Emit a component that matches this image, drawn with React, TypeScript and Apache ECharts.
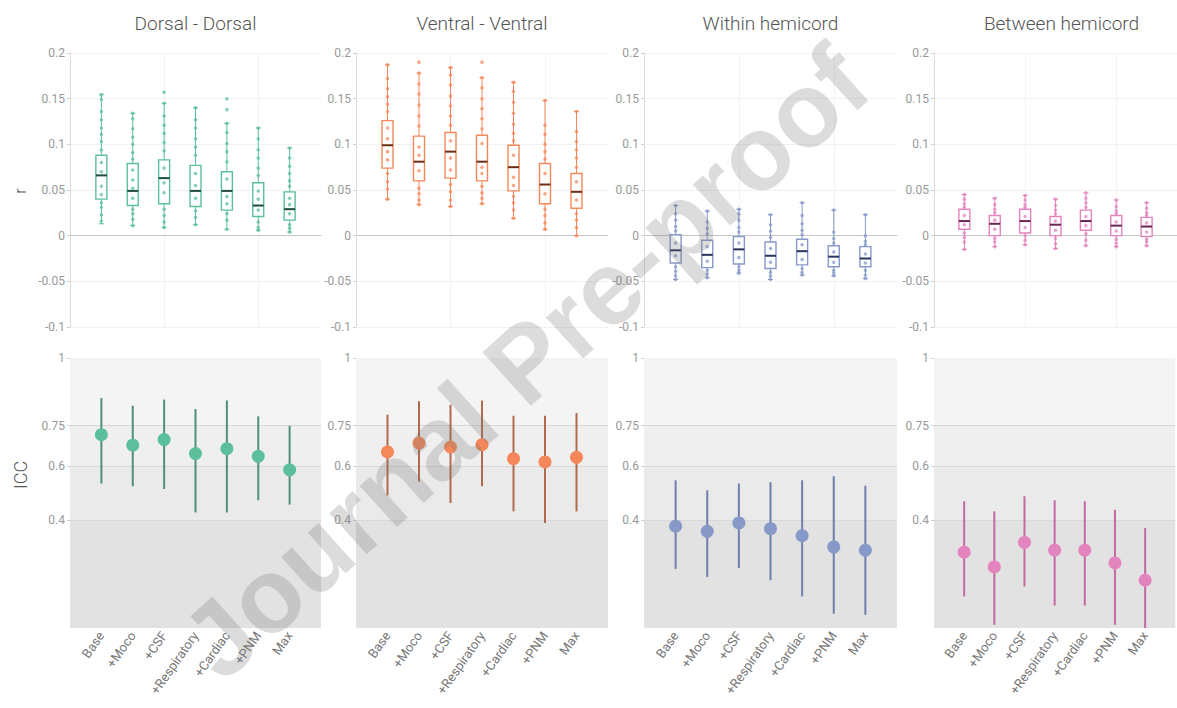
import React, { useEffect, useRef } from 'react';
import * as echarts from 'echarts';

const categories = ['Base', '+Moco', '+CSF', '+Respiratory', '+Cardiac', '+PNM', 'Max'];
const paddedCategories = ['', ...categories, ''];
const panelTitles = ['Dorsal - Dorsal', 'Ventral - Ventral', 'Within hemicord', 'Between hemicord'];
const rTickFormat = (v: number) => String(parseFloat(v.toFixed(2)));
const iccTicks = [0.4, 0.6, 0.75, 1];
const iccBands = [0, 0.4, 0.6, 0.75, 1];

const panelColors = ['#5cbf9c', '#f5885a', '#8699c8', '#e384bf'];
const medianColors = ['#1f4d40', '#6e2e14', '#27345c', '#6a2452'];
const iccLineColors = ['#4f8f7b', '#b06a4c', '#6f7fae', '#c36aa2'];
const bandColors = ['#e2e2e2', '#eaeaea', '#efefef', '#f4f4f4'];

// r boxplots: [min, q1, median, q3, max]
const dorsalBox = [
  [0.013, 0.040, 0.066, 0.088, 0.155],
  [0.011, 0.033, 0.049, 0.079, 0.134],
  [0.009, 0.035, 0.063, 0.083, 0.145],
  [0.012, 0.032, 0.049, 0.077, 0.140],
  [0.007, 0.028, 0.049, 0.070, 0.123],
  [0.006, 0.021, 0.033, 0.058, 0.118],
  [0.004, 0.017, 0.029, 0.048, 0.096],
];
const ventralBox = [
  [0.040, 0.074, 0.099, 0.126, 0.187],
  [0.034, 0.060, 0.081, 0.109, 0.178],
  [0.032, 0.063, 0.092, 0.113, 0.184],
  [0.035, 0.060, 0.081, 0.110, 0.173],
  [0.019, 0.049, 0.075, 0.099, 0.168],
  [0.007, 0.035, 0.056, 0.079, 0.148],
  [0.000, 0.030, 0.048, 0.068, 0.136],
];
const withinBox = [
  [-0.048, -0.030, -0.016, 0.001, 0.033],
  [-0.046, -0.035, -0.021, -0.005, 0.027],
  [-0.041, -0.031, -0.015, -0.001, 0.029],
  [-0.048, -0.036, -0.022, -0.007, 0.023],
  [-0.043, -0.032, -0.017, -0.004, 0.036],
  [-0.044, -0.034, -0.023, -0.011, 0.028],
  [-0.047, -0.034, -0.025, -0.012, 0.023],
];
const betweenBox = [
  [-0.015, 0.007, 0.016, 0.029, 0.045],
  [-0.012, 0.000, 0.013, 0.022, 0.041],
  [-0.010, 0.003, 0.016, 0.029, 0.044],
  [-0.014, 0.000, 0.012, 0.021, 0.040],
  [-0.011, 0.006, 0.016, 0.028, 0.047],
  [-0.012, 0.000, 0.011, 0.022, 0.039],
  [-0.011, -0.001, 0.010, 0.020, 0.036],
];

// individual subject values (visible dots)
const dorsalPoints = [
  [0.154, 0.149, 0.136, 0.127, 0.118, 0.111, 0.103, 0.094, 0.080, 0.070, 0.054, 0.045, 0.036, 0.031, 0.023, 0.016],
  [0.134, 0.128, 0.117, 0.108, 0.100, 0.091, 0.084, 0.072, 0.061, 0.052, 0.041, 0.029, 0.024, 0.018, 0.011],
  [0.157, 0.145, 0.131, 0.121, 0.112, 0.102, 0.093, 0.074, 0.058, 0.047, 0.029, 0.022, 0.015, 0.009],
  [0.140, 0.127, 0.118, 0.106, 0.097, 0.088, 0.068, 0.055, 0.041, 0.027, 0.020, 0.012],
  [0.150, 0.138, 0.123, 0.113, 0.101, 0.092, 0.081, 0.062, 0.043, 0.035, 0.024, 0.017, 0.007],
  [0.118, 0.106, 0.094, 0.085, 0.074, 0.066, 0.049, 0.040, 0.028, 0.015, 0.009, 0.006],
  [0.096, 0.085, 0.076, 0.068, 0.060, 0.054, 0.041, 0.034, 0.024, 0.012, 0.008, 0.004],
];
const ventralPoints = [
  [0.187, 0.172, 0.161, 0.152, 0.144, 0.136, 0.118, 0.106, 0.092, 0.083, 0.068, 0.059, 0.051, 0.040],
  [0.190, 0.178, 0.166, 0.155, 0.143, 0.131, 0.120, 0.097, 0.088, 0.071, 0.052, 0.046, 0.039, 0.034],
  [0.184, 0.176, 0.165, 0.153, 0.142, 0.131, 0.121, 0.104, 0.085, 0.072, 0.056, 0.048, 0.039, 0.032],
  [0.190, 0.173, 0.162, 0.150, 0.139, 0.128, 0.117, 0.101, 0.075, 0.068, 0.054, 0.047, 0.041, 0.035],
  [0.168, 0.158, 0.146, 0.134, 0.122, 0.112, 0.104, 0.088, 0.064, 0.055, 0.043, 0.036, 0.028, 0.019],
  [0.148, 0.121, 0.111, 0.100, 0.092, 0.084, 0.068, 0.046, 0.029, 0.022, 0.014, 0.007],
  [0.136, 0.114, 0.103, 0.094, 0.085, 0.075, 0.059, 0.039, 0.024, 0.017, 0.009, 0.000],
];
const withinPoints = [
  [0.033, 0.024, 0.017, 0.010, 0.005, -0.008, -0.022, -0.034, -0.039, -0.044, -0.048],
  [0.027, 0.015, 0.008, 0.002, -0.012, -0.028, -0.038, -0.042, -0.046],
  [0.029, 0.024, 0.017, 0.009, 0.004, -0.008, -0.024, -0.034, -0.038, -0.041],
  [0.023, 0.012, 0.005, -0.002, -0.014, -0.029, -0.040, -0.044, -0.048],
  [0.036, 0.022, 0.013, 0.006, 0.001, -0.010, -0.026, -0.036, -0.040, -0.043],
  [0.028, 0.004, -0.003, -0.008, -0.018, -0.029, -0.038, -0.041, -0.044],
  [0.023, 0.000, -0.006, -0.010, -0.020, -0.030, -0.038, -0.043, -0.047],
];
const betweenPoints = [
  [0.045, 0.040, 0.035, 0.031, 0.022, 0.012, 0.003, -0.002, -0.007, -0.015],
  [0.041, 0.034, 0.029, 0.025, 0.017, 0.007, -0.003, -0.007, -0.012],
  [0.044, 0.039, 0.034, 0.031, 0.021, 0.009, 0.000, -0.005, -0.010],
  [0.040, 0.033, 0.028, 0.024, 0.016, 0.006, -0.003, -0.009, -0.014],
  [0.047, 0.041, 0.036, 0.031, 0.021, 0.011, 0.002, -0.005, -0.011],
  [0.039, 0.032, 0.027, 0.024, 0.015, 0.005, -0.004, -0.008, -0.012],
  [0.036, 0.030, 0.025, 0.022, 0.014, 0.004, -0.004, -0.007, -0.011],
];

// ICC: [estimate, lower, upper]
const dorsalIcc = [
  [0.716, 0.535, 0.852],
  [0.677, 0.525, 0.823],
  [0.698, 0.515, 0.846],
  [0.646, 0.428, 0.811],
  [0.664, 0.428, 0.843],
  [0.636, 0.473, 0.784],
  [0.586, 0.457, 0.749],
];
const ventralIcc = [
  [0.652, 0.491, 0.790],
  [0.685, 0.543, 0.840],
  [0.670, 0.463, 0.827],
  [0.679, 0.525, 0.843],
  [0.627, 0.432, 0.786],
  [0.615, 0.389, 0.786],
  [0.632, 0.432, 0.796],
];
const withinIcc = [
  [0.377, 0.219, 0.547],
  [0.358, 0.189, 0.510],
  [0.389, 0.222, 0.535],
  [0.368, 0.177, 0.540],
  [0.342, 0.117, 0.547],
  [0.300, 0.053, 0.562],
  [0.288, 0.049, 0.527],
];
const betweenIcc = [
  [0.281, 0.117, 0.469],
  [0.226, 0.012, 0.432],
  [0.317, 0.154, 0.488],
  [0.288, 0.083, 0.473],
  [0.288, 0.083, 0.469],
  [0.241, 0.012, 0.438],
  [0.177, 0.000, 0.370],
];

const boxSets = [dorsalBox, ventralBox, withinBox, betweenBox];
const pointSets = [dorsalPoints, ventralPoints, withinPoints, betweenPoints];
const iccSets = [dorsalIcc, ventralIcc, withinIcc, betweenIcc];

const gridLefts = [70, 356, 644, 934];
const gridWidths = [251, 252, 253, 255];
const FONT = 'Roboto, "Liberation Sans", sans-serif';

function buildOption() {
  const grid: any[] = [];
  const xAxis: any[] = [];
  const yAxis: any[] = [];
  const series: any[] = [];
  const graphic: any[] = [];

  for (let i = 0; i < 4; i++) {
    grid.push({ left: gridLefts[i], width: gridWidths[i], top: 53, height: 274 });
  }
  for (let i = 0; i < 4; i++) {
    grid.push({ left: gridLefts[i], width: gridWidths[i], top: 358, height: 270 });
  }

  for (let i = 0; i < 4; i++) {
    xAxis.push({
      gridIndex: i,
      type: 'category',
      data: paddedCategories,
      boundaryGap: false,
      axisLine: { show: true, onZero: true, lineStyle: { color: '#c6c6c6', width: 1 } },
      axisTick: { show: false },
      axisLabel: { show: false },
      splitLine: { show: true, lineStyle: { color: '#f3f3f3', width: 1 } },
    });
    yAxis.push({
      gridIndex: i,
      type: 'value',
      min: -0.1,
      max: 0.2,
      interval: 0.05,
      axisLine: { show: true, lineStyle: { color: '#dcdcdc' } },
      axisTick: { show: true, length: 3, lineStyle: { color: '#cfcfcf' } },
      axisLabel: { color: '#999999', fontSize: 12, fontFamily: FONT, margin: 5, formatter: rTickFormat },
      splitLine: { show: true, lineStyle: { color: '#f1f1f1' } },
    });
  }
  for (let i = 0; i < 4; i++) {
    xAxis.push({
      gridIndex: 4 + i,
      type: 'category',
      data: paddedCategories,
      boundaryGap: false,
      axisLine: { show: false },
      axisTick: { show: false },
      axisLabel: { interval: 0, rotate: 55, color: '#777777', fontSize: 13, fontFamily: FONT, margin: 5 },
      splitLine: { show: false },
    });
    yAxis.push({
      gridIndex: 4 + i,
      type: 'value',
      min: 0,
      max: 1,
      axisLine: { show: true, lineStyle: { color: '#dcdcdc' } },
      axisTick: { show: true, length: 3, customValues: iccTicks, lineStyle: { color: '#cfcfcf' } },
      axisLabel: {
        customValues: iccTicks,
        color: '#999999',
        fontSize: 12,
        fontFamily: FONT,
        margin: 5,
        formatter: (v: number) => String(v),
      },
      splitLine: { show: false },
    });
  }

  for (let i = 0; i < 4; i++) {
    const color = panelColors[i];
    const medColor = medianColors[i];
    // boxes
    series.push({
      type: 'custom',
      xAxisIndex: i,
      yAxisIndex: i,
      z: 2,
      silent: true,
      data: boxSets[i].map((b, k) => [k + 1, ...b]),
      encode: { x: 0, y: [1, 2, 3, 4, 5] },
      renderItem: (params: any, api: any) => {
        const x = api.value(0);
        const pMin = api.coord([x, api.value(1)]);
        const pQ1 = api.coord([x, api.value(2)]);
        const pMed = api.coord([x, api.value(3)]);
        const pQ3 = api.coord([x, api.value(4)]);
        const pMax = api.coord([x, api.value(5)]);
        const hw = 5.5;
        const cap = 2.5;
        const cx = pMed[0];
        const wStyle = { stroke: color, lineWidth: 1 };
        return {
          type: 'group',
          children: [
            { type: 'line', shape: { x1: cx, y1: pMax[1], x2: cx, y2: pQ3[1] }, style: wStyle },
            { type: 'line', shape: { x1: cx, y1: pQ1[1], x2: cx, y2: pMin[1] }, style: wStyle },
            { type: 'line', shape: { x1: cx - cap, y1: pMax[1], x2: cx + cap, y2: pMax[1] }, style: wStyle },
            { type: 'line', shape: { x1: cx - cap, y1: pMin[1], x2: cx + cap, y2: pMin[1] }, style: wStyle },
            {
              type: 'rect',
              shape: { x: cx - hw, y: pQ3[1], width: hw * 2, height: pQ1[1] - pQ3[1] },
              style: { fill: 'rgba(255,255,255,0.55)', stroke: color, lineWidth: 1.4 },
            },
            { type: 'line', shape: { x1: cx - hw, y1: pMed[1], x2: cx + hw, y2: pMed[1] }, style: { stroke: medColor, lineWidth: 2 } },
          ],
        };
      },
    });
    // individual points
    const pts: number[][] = [];
    pointSets[i].forEach((arr, k) => arr.forEach((v) => pts.push([k + 1, v])));
    series.push({
      type: 'scatter',
      xAxisIndex: i,
      yAxisIndex: i,
      z: 3,
      silent: true,
      symbolSize: 3.5,
      itemStyle: { color, opacity: 0.75 },
      data: pts,
    });

    // ICC bands
    series.push({
      type: 'scatter',
      xAxisIndex: 4 + i,
      yAxisIndex: 4 + i,
      data: [],
      silent: true,
      markArea: {
        silent: true,
        z: 1,
        data: bandColors.map((c, b) => [
          { yAxis: iccBands[b], itemStyle: { color: c } },
          { yAxis: iccBands[b + 1] },
        ]),
      },
      markLine: {
        silent: true,
        z: 1,
        symbol: 'none',
        label: { show: false },
        lineStyle: { color: '#d8d8d8', type: 'solid', width: 1 },
        data: iccTicks.slice(0, 3).map((t) => ({ yAxis: t })),
      },
    });
    // ICC CI bars
    series.push({
      type: 'custom',
      xAxisIndex: 4 + i,
      yAxisIndex: 4 + i,
      z: 2,
      silent: true,
      clip: true,
      data: iccSets[i].map((d, k) => [k + 1, d[1], d[2]]),
      encode: { x: 0, y: [1, 2] },
      renderItem: (params: any, api: any) => {
        const x = api.value(0);
        const lo = api.coord([x, api.value(1)]);
        const hi = api.coord([x, api.value(2)]);
        return {
          type: 'line',
          shape: { x1: lo[0], y1: lo[1], x2: hi[0], y2: hi[1] },
          style: { stroke: iccLineColors[i], lineWidth: 2 },
        };
      },
    });
    // ICC estimates
    series.push({
      type: 'scatter',
      xAxisIndex: 4 + i,
      yAxisIndex: 4 + i,
      z: 3,
      silent: true,
      symbolSize: 13,
      itemStyle: { color, opacity: 1 },
      data: iccSets[i].map((d, k) => [k + 1, d[0]]),
    });

    graphic.push({
      type: 'text',
      x: gridLefts[i] + gridWidths[i] / 2,
      y: 23,
      style: {
        text: panelTitles[i],
        fill: '#555555',
        font: `300 19px ${FONT}`,
        align: 'center',
        verticalAlign: 'middle',
      },
    });
  }

  graphic.push({
    type: 'text',
    x: 20,
    y: 191,
    rotation: Math.PI / 2,
    style: { text: 'r', fill: '#555555', font: `300 16px ${FONT}`, align: 'center', verticalAlign: 'middle' },
  });
  graphic.push({
    type: 'text',
    x: 20,
    y: 475,
    rotation: Math.PI / 2,
    style: { text: 'ICC', fill: '#555555', font: `300 18px ${FONT}`, align: 'center', verticalAlign: 'middle' },
  });
  graphic.push({
    type: 'text',
    x: 525,
    y: 362,
    z: 100,
    silent: true,
    rotation: 0.735,
    style: {
      text: 'Journal Pre-proof',
      fill: 'rgba(120,120,120,0.26)',
      font: `bold 105px "Liberation Sans", Arial, sans-serif`,
      align: 'center',
      verticalAlign: 'middle',
    },
  });

  return {
    animation: false,
    backgroundColor: '#ffffff',
    grid,
    xAxis,
    yAxis,
    series,
    graphic,
  };
}

export default function App() {
  const ref = useRef<HTMLDivElement>(null);
  useEffect(() => {
    if (!ref.current) return;
    const chart = echarts.init(ref.current, undefined, { renderer: 'svg' });
    chart.setOption(buildOption() as any);
    return () => chart.dispose();
  }, []);
  return (
    <div
      ref={ref}
      style={{ position: 'absolute', left: 0, top: 0, width: 1177, height: 708, background: '#fff' }}
    />
  );
}
